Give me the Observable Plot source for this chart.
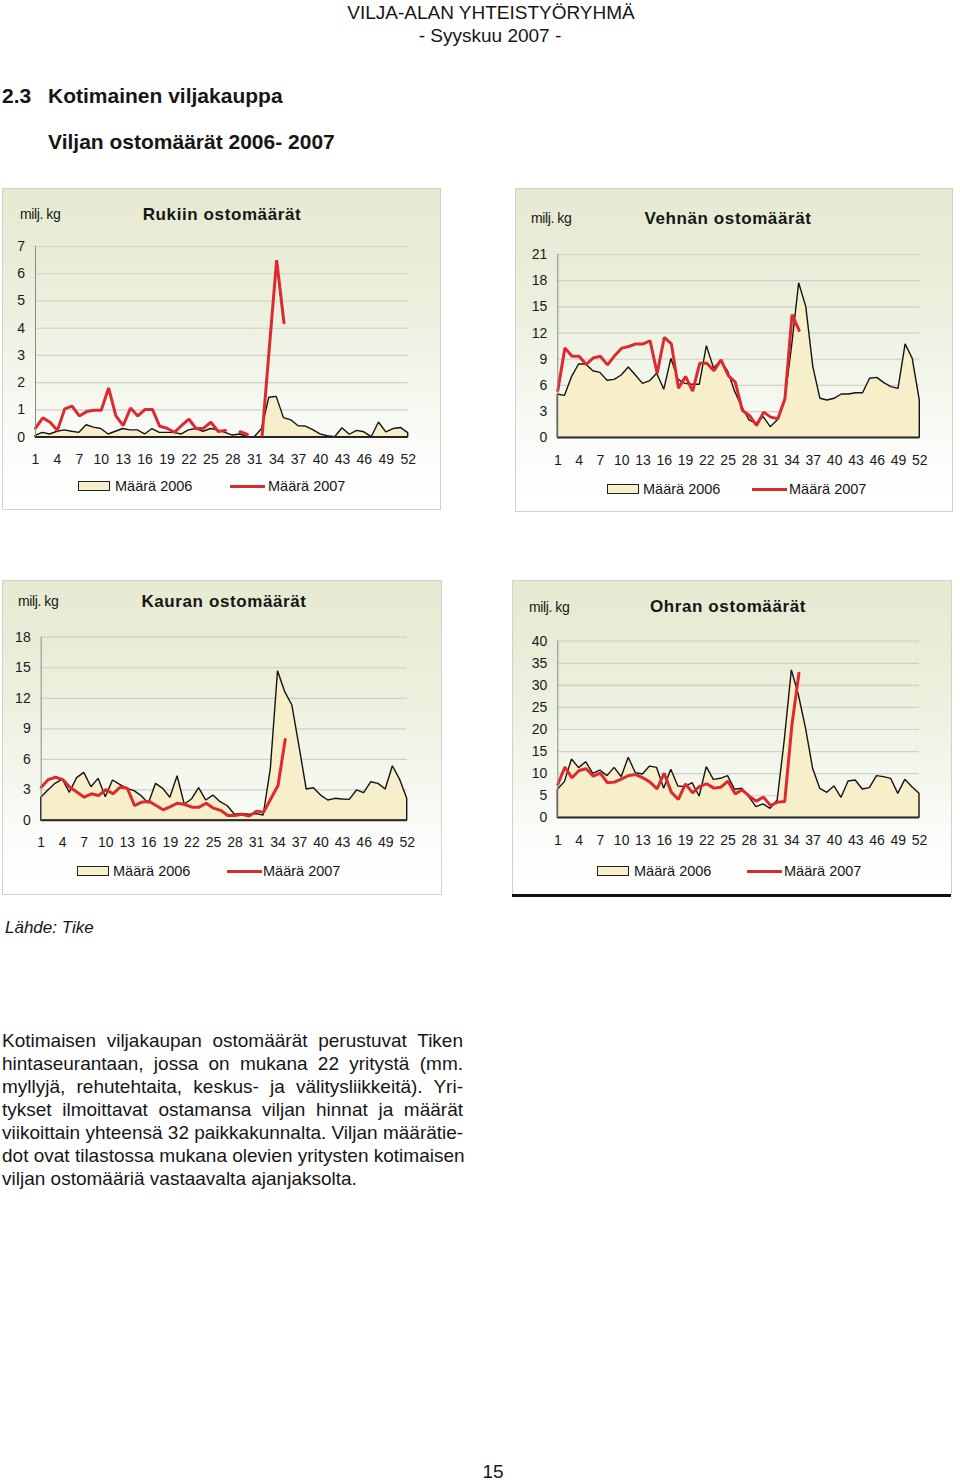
<!DOCTYPE html>
<html>
<head>
<meta charset="utf-8">
<script src="https://cdn.jsdelivr.net/npm/d3@7"></script>
<script src="https://cdn.jsdelivr.net/npm/@observablehq/plot@0.6"></script>
<style>
  html, body { margin: 0; padding: 0; background: #fff; }
  body { width: 960px; height: 1480px; position: relative; overflow: hidden;
         font-family: "Liberation Sans", Arial, sans-serif; color: #161616; }
  .t { position: absolute; white-space: nowrap; }
  .box { position: absolute; box-sizing: border-box; border: 1px solid #d2d2cc;
         background: linear-gradient(to bottom, #e6ead1 0%, #ebefdc 35%, #f3f6ec 60%, #fbfcf9 80%, #ffffff 100%); }
  .plotwrap { position: absolute; }
  .plotwrap svg { overflow: visible; }
  .para { position: absolute; left: 2px; width: 461px; font-size: 19px; line-height: 23px; }
  .para div { text-align: justify; text-align-last: justify; white-space: nowrap; }
  .para div.last { text-align-last: left; }
</style>
</head>
<body>
<script>
// ---------------- data ----------------
const weeks = [1,2,3,4,5,6,7,8,9,10,11,12,13,14,15,16,17,18,19,20,21,22,23,24,25,26,
               27,28,29,30,31,32,33,34,35,36,37,38,39,40,41,42,43,44,45,46,47,48,49,50,51,52];
const weekTicks = [1,4,7,10,13,16,19,22,25,28,31,34,37,40,43,46,49,52];

const ryeTicks = [0,1,2,3,4,5,6,7];
const wheatTicks = [0,3,6,9,12,15,18,21];
const oatsTicks = [0,3,6,9,12,15,18];
const barleyTicks = [0,5,10,15,20,25,30,35,40];

const rye2006 = [0.05,0.16,0.1,0.2,0.25,0.2,0.16,0.44,0.35,0.3,
                 0.1,0.2,0.3,0.25,0.25,0.1,0.3,0.16,0.16,0.16,
                 0.1,0.25,0.3,0.2,0.3,0.25,0.16,0.06,0.1,0,
                 0,0.3,1.45,1.48,0.7,0.62,0.4,0.39,0.26,0.1,
                 0.04,0,0.33,0.09,0.23,0.18,0,0.54,0.18,0.3,
                 0.34,0.15];
const rye2007 = [0.33,0.71,0.55,0.25,1.04,1.14,0.78,0.94,0.99,0.99,
                 1.81,0.78,0.43,1.07,0.78,1.02,1.02,0.4,0.33,0.18,
                 0.43,0.66,0.31,0.33,0.55,0.21,0.25,null,0.2,0.1,
                 null,0.02,3.3,6.5,4.2,null,null,null,null,null,
                 null,null,null,null,null,null,null,null,null,null,
                 null,null];

const wheat2006 = [4.96,4.8,6.95,8.4,8.4,7.63,7.44,6.53,6.64,7.14,
                   8.05,7.14,6.18,6.49,7.33,5.5,9.05,6.64,6.18,6.07,
                   6.07,10.5,7.98,8.74,7.6,5.23,3.5,2.0,1.6,2.37,
                   1.22,2.0,4.08,10.4,17.7,15.0,8.1,4.47,4.27,4.47,
                   4.96,4.96,5.11,5.11,6.76,6.87,6.26,5.8,5.6,10.7,
                   9.05,4.27];
const wheat2007 = [5.42,10.3,9.35,9.35,8.4,9.16,9.35,8.36,9.39,10.27,
                   10.46,10.76,10.76,11.1,7.4,11.5,10.76,5.69,7.02,5.34,
                   8.55,8.55,7.7,8.93,7.14,6.37,3.13,2.56,1.41,2.94,
                   2.37,2.18,4.47,14.1,12.3,null,null,null,null,null,
                   null,null,null,null,null,null,null,null,null,null,
                   null,null];

const oats2006 = [2.23,2.95,3.6,4.02,2.72,4.16,4.68,3.27,4.09,2.29,
                  3.93,3.5,3.11,2.88,2.39,1.64,3.6,3.11,2.23,4.35,
                  1.57,2.06,3.17,1.96,2.45,1.8,1.4,0.56,0.65,0.56,
                  0.62,0.49,5.07,14.66,12.6,11.29,7.2,3.04,3.17,2.45,
                  1.96,2.13,2.06,2.03,2.95,2.68,3.76,3.6,3.04,5.33,
                  4.02,2.13];
const oats2007 = [3.27,4.02,4.25,4.02,3.27,2.78,2.29,2.62,2.45,3.04,
                  2.62,3.27,3.17,1.47,1.8,1.9,1.47,1.05,1.37,1.7,
                  1.57,1.31,1.31,1.7,1.21,1.0,0.49,0.49,0.62,0.43,
                  0.92,0.82,2.13,3.44,7.95,null,null,null,null,null,
                  null,null,null,null,null,null,null,null,null,null,
                  null,null];

const barley2006 = [6.34,8.08,13.2,11.25,12.6,9.96,10.7,9.43,11.3,9.2,
                    13.6,10.1,9.8,11.6,11.3,6.57,10.9,7.1,6.94,7.85,
                    4.83,11.47,8.6,8.83,9.43,6.34,6.57,4.68,2.42,3.02,
                    2.04,3.92,17.5,33.4,27.7,20.2,11.1,6.57,5.66,7.1,
                    4.53,8.23,8.45,6.42,6.72,9.43,9.2,8.83,5.43,8.6,
                    6.94,5.43];
const barley2007 = [7.55,11.47,9.06,10.7,11.1,9.43,10.1,7.92,8.08,8.83,
                    9.58,9.8,9.06,8.08,6.57,10.1,5.81,4.15,7.7,5.66,
                    7.1,7.7,6.72,6.94,8.3,5.43,6.34,4.9,3.77,4.68,
                    2.79,3.55,3.7,20.9,32.75,null,null,null,null,null,
                    null,null,null,null,null,null,null,null,null,null,
                    null,null];

const chartTitles = ["Rukiin ostomäärät", "Vehnän ostomäärät", "Kauran ostomäärät", "Ohran ostomäärät"];
const unitLabel = "milj. kg";
const legendLabels = ["Määrä 2006", "Määrä 2007"];

// ---------------- layout ----------------
const COL_AREA = "#f6efca", COL_RED = "#dc2a31";

const charts = [
  { title: chartTitles[0], s06: rye2006, s07: rye2007, ticks: ryeTicks,
    box: [2, 188, 439, 322], plot: [35, 407.7, 246, 436.7],
    unit: [20, 214], titlePos: [222, 214], legend: [78, 115, 230, 268, 486] },
  { title: chartTitles[1], s06: wheat2006, s07: wheat2007, ticks: wheatTicks,
    box: [515, 188, 438, 324], plot: [557.3, 919.3, 254, 437.3],
    unit: [531, 218], titlePos: [728, 218], legend: [607, 643, 752, 789, 489] },
  { title: chartTitles[2], s06: oats2006, s07: oats2007, ticks: oatsTicks,
    box: [2, 580, 440, 315], plot: [40.7, 406.7, 636.7, 820],
    unit: [18, 601], titlePos: [224, 601], legend: [77, 113, 227, 263, 871] },
  { title: chartTitles[3], s06: barley2006, s07: barley2007, ticks: barleyTicks,
    box: [512, 580, 440, 315], plot: [557.3, 919, 640.7, 817.3],
    unit: [529, 607], titlePos: [728, 606], legend: [597, 634, 747, 784, 871] }
];

function txt(s, x, cy, o = {}) {
  const fs = o.size || 14;
  const d = document.createElement("div");
  d.className = "t";
  d.textContent = s;
  d.style.fontSize = fs + "px";
  d.style.lineHeight = fs + "px";
  d.style.top = (cy - 0.5 * fs) + "px";
  if (o.weight) d.style.fontWeight = o.weight;
  if (o.style) d.style.fontStyle = o.style;
  if (o.ls) d.style.letterSpacing = o.ls + "px";
  if (o.color) d.style.color = o.color;
  if (o.anchor === "middle") {
    d.style.left = (x - 300) + "px"; d.style.width = "600px"; d.style.textAlign = "center";
  } else {
    d.style.left = x + "px";
  }
  document.body.appendChild(d);
  return d;
}

// page header
txt("VILJA-ALAN YHTEISTYÖRYHMÄ", 491, 12, { size: 19, anchor: "middle" });
txt("- Syyskuu 2007 -", 490, 35, { size: 19, anchor: "middle" });
txt("2.3", 2, 95, { size: 21, weight: "bold" });
txt("Kotimainen viljakauppa", 48, 95, { size: 21, weight: "bold" });
txt("Viljan ostomäärät 2006- 2007", 48, 141, { size: 21, weight: "bold" });

for (const c of charts) {
  const [bx, by, bw, bh] = c.box;
  const [pl, pr, pt, pz] = c.plot;
  const box = document.createElement("div");
  box.className = "box";
  Object.assign(box.style, { left: bx + "px", top: by + "px", width: bw + "px", height: bh + "px" });
  document.body.appendChild(box);

  txt(unitLabel, c.unit[0], c.unit[1], { size: 14, ls: -0.4 });
  txt(c.title, c.titlePos[0], c.titlePos[1], { size: 17, weight: "bold", ls: 0.6, anchor: "middle" });

  const H = Math.round(pz - by + 40);
  const data = weeks.map((w, i) => ({ week: w, v06: c.s06[i], v07: c.s07[i] }));
  const ymax = c.ticks[c.ticks.length - 1];
  const svg = Plot.plot({
    width: bw,
    height: H,
    marginLeft: pl - bx,
    marginRight: bx + bw - pr,
    marginTop: pt - by,
    marginBottom: H - (pz - by),
    style: { background: "none", fontFamily: "'Liberation Sans', Arial, sans-serif", fontSize: "14px", color: "#1a1a1a", overflow: "visible" },
    x: { domain: [1, 52], ticks: weekTicks, tickSize: 0, tickPadding: 17, label: null, tickFormat: d => String(d) },
    y: { domain: [0, ymax], ticks: c.ticks, tickSize: 0, tickPadding: 10.5, label: null, tickFormat: d => String(d) },
    marks: [
      Plot.ruleY(c.ticks.filter(t => t > 0), { stroke: "#cfd0c6", strokeWidth: 1.2 }),
      Plot.areaY(data, { x: "week", y: "v06", fill: COL_AREA, stroke: "#141414", strokeWidth: 1.4, strokeLinejoin: "miter" }),
      Plot.lineY(data, { x: "week", y: "v07", stroke: COL_RED, strokeWidth: 3, strokeLinejoin: "miter" }),
      Plot.ruleX([1], { stroke: "#8a8a8a", strokeWidth: 1 }),
      Plot.ruleY([0], { stroke: "#2a2a2a", strokeWidth: 1.6 })
    ]
  });
  const wrap = document.createElement("div");
  wrap.className = "plotwrap";
  Object.assign(wrap.style, { left: bx + "px", top: by + "px", width: bw + "px", height: H + "px" });
  wrap.appendChild(svg);
  document.body.appendChild(wrap);

  // legend
  const [rx, tx1, lx, tx2, ly] = c.legend;
  const r = document.createElement("div");
  Object.assign(r.style, { position: "absolute", left: rx + "px", top: (ly - 5) + "px", width: "32px", height: "10px",
    boxSizing: "border-box", border: "1.5px solid #222", background: COL_AREA });
  document.body.appendChild(r);
  txt(legendLabels[0], tx1, ly, { size: 14.5 });
  const l = document.createElement("div");
  Object.assign(l.style, { position: "absolute", left: lx + "px", top: (ly - 1.5) + "px", width: "35px", height: "3px", background: COL_RED });
  document.body.appendChild(l);
  txt(legendLabels[1], tx2, ly, { size: 14.5 });
}

// bottom black rule under the barley chart
const bl = document.createElement("div");
Object.assign(bl.style, { position: "absolute", left: "512px", top: "894px", width: "439px", height: "2.5px", background: "#111" });
document.body.appendChild(bl);

txt("Lähde: Tike", 5, 927, { size: 17, style: "italic" });

const paraLines = [
  "Kotimaisen viljakaupan ostomäärät perustuvat Tiken",
  "hintaseurantaan, jossa on mukana 22 yritystä (mm.",
  "myllyjä, rehutehtaita, keskus- ja välitysliikkeitä). Yri-",
  "tykset ilmoittavat ostamansa viljan hinnat ja määrät",
  "viikoittain yhteensä 32 paikkakunnalta. Viljan määrätie-",
  "dot ovat tilastossa mukana olevien yritysten kotimaisen",
  "viljan ostomääriä vastaavalta ajanjaksolta."
];
const para = document.createElement("div");
para.className = "para";
para.style.top = (1041 - 11.5 - 1) + "px";
paraLines.forEach((s, i) => {
  const d = document.createElement("div");
  d.textContent = s;
  if (i === paraLines.length - 1) d.className = "last";
  para.appendChild(d);
});
document.body.appendChild(para);

txt("15", 493, 1471, { size: 19, anchor: "middle" });
</script>
</body>
</html>
